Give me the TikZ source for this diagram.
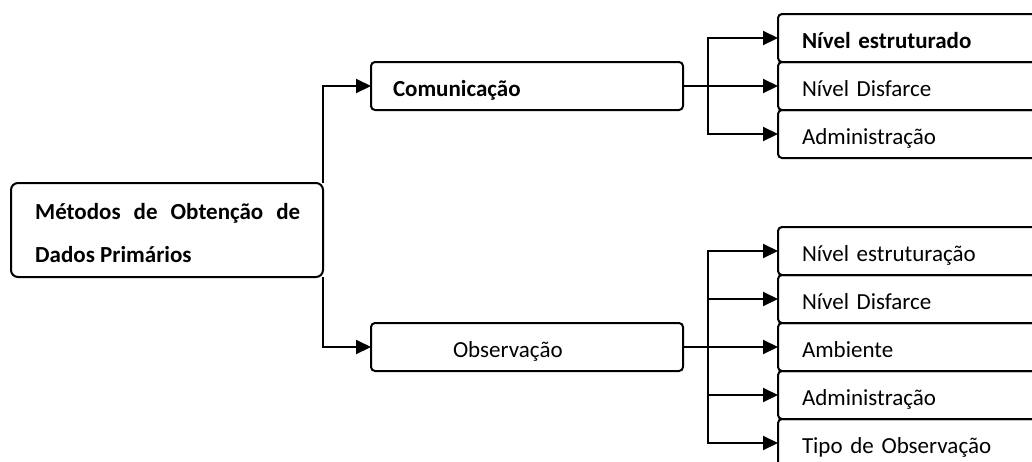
\documentclass[tikz,border=0pt]{standalone}
\usepackage{fontspec}
\setmainfont{Carlito}
\usetikzlibrary{arrows.meta}
\begin{document}
\begin{tikzpicture}[x=1pt,y=-1pt,
  box/.style={draw=black, line width=2pt, rounded corners=4pt, inner sep=0pt, outer sep=0pt},
  txt/.style={font=\fontsize{23}{28}\selectfont},
  leaf/.style={box, txt, minimum width=300pt, minimum height=48pt, anchor=west,
    text width=252pt, inner xsep=24pt, inner ysep=0pt, align=left, text height=24pt, text depth=3pt},
  mid/.style={box, txt, minimum width=312pt, minimum height=48pt,
    text width=268pt, inner xsep=22pt, inner ysep=0pt, align=left, text height=24pt, text depth=3pt},
  link/.style={line width=2pt, -{Triangle[length=15pt,width=14pt]}},
  wire/.style={line width=2pt}]
\useasboundingbox (0,0) rectangle (1032,461);
\fill[white] (0,0) rectangle (1032,461);

% main box
\node[box, rounded corners=7pt, minimum width=312pt, minimum height=94pt] (main) at (167,230) {};
\node[txt, anchor=base west, inner sep=0pt, font=\fontsize{23}{28}\selectfont\bfseries] (mt1) at (35,219) {\makebox[265pt][s]{Métodos de Obtenção de}};
\node[txt, anchor=base west, inner sep=0pt, font=\fontsize{23}{28}\selectfont\bfseries] (mt2) at (35,262) {Dados Primários};

% middle boxes
\node[mid, font=\fontsize{23}{28}\selectfont\bfseries] (com) at (527,86) {Comunicação};
\node[mid] (obs) at (527,347) {\hspace*{60pt}Observação};

% top leaves
\node[leaf, font=\fontsize{23}{28}\selectfont\bfseries] (c1) at (778,38) {Nível estruturado};
\node[leaf] (c2) at (778,86) {Nível Disfarce};
\node[leaf] (c3) at (778,134) {Administração};

% bottom leaves
\node[leaf] (o1) at (778,251) {Nível estruturação};
\node[leaf] (o2) at (778,299) {Nível Disfarce};
\node[leaf] (o3) at (778,347) {Ambiente};
\node[leaf] (o4) at (778,395) {Administração};
\node[leaf] (o5) at (778,443) {Tipo de Observação};

% connectors from main
\draw[link] (main.north east) |- (com.west);
\draw[link] (main.south east) |- (obs.west);

% communication bus
\coordinate (cb) at (708,86);
\draw[wire] (com.east) -- (cb);
\draw[link] (cb) |- (c1.west);
\draw[link] (cb) -- (c2.west);
\draw[link] (cb) |- (c3.west);

% observation bus
\coordinate (ob) at (708,347);
\draw[wire] (obs.east) -- (ob);
\draw[link] (ob) |- (o1.west);
\draw[link] (ob) |- (o2.west);
\draw[link] (ob) -- (o3.west);
\draw[link] (ob) |- (o4.west);
\draw[link] (ob) |- (o5.west);
\end{tikzpicture}
\end{document}
